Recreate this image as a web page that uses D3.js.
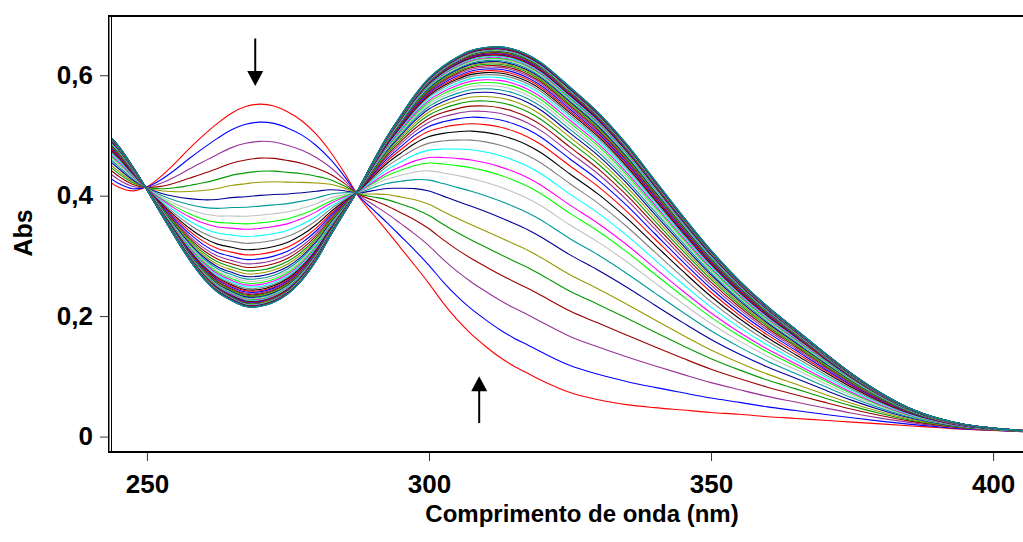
<!DOCTYPE html>
<html>
<head>
<meta charset="utf-8">
<script src="https://cdn.jsdelivr.net/npm/d3@7"></script>
<style>
  body { margin: 0; background: #fff; }
  svg { display: block; }
</style>
</head>
<body>
<div id="chart"></div>
<script>
var width = 1023, height = 542;

// wavelengths (nm) where the two limiting spectra were read
var wavelengths = [243, 245, 247.5, 250, 252.5, 255, 257.5, 260, 262.5, 265, 267.5, 270,
  272.5, 275, 277.5, 280, 282.5, 285, 287.5, 290, 292.5, 295, 297.5, 300,
  302.5, 305, 307.5, 310, 312.5, 315, 317.5, 320, 325, 330, 335, 340,
  345, 350, 355, 360, 365, 370, 375, 380, 385, 390, 395, 400, 405.5];

// first spectrum (red)
var absStart = [0.426, 0.414, 0.408, 0.415, 0.432, 0.454, 0.478, 0.500, 0.520, 0.537, 0.548, 0.552,
  0.549, 0.539, 0.524, 0.502, 0.473, 0.438, 0.399, 0.370, 0.342, 0.313, 0.284, 0.254,
  0.222, 0.194, 0.170, 0.150, 0.132, 0.117, 0.105, 0.093, 0.073, 0.061, 0.053, 0.048,
  0.044, 0.040, 0.037, 0.033, 0.030, 0.027, 0.024, 0.021, 0.018, 0.015, 0.012, 0.010, 0.008];

// last spectrum
var absEnd = [0.503, 0.482, 0.448, 0.410, 0.370, 0.331, 0.294, 0.263, 0.240, 0.226, 0.216, 0.216,
  0.223, 0.237, 0.260, 0.292, 0.333, 0.372, 0.411, 0.455, 0.497, 0.533, 0.567, 0.595,
  0.615, 0.630, 0.641, 0.646, 0.647, 0.643, 0.634, 0.620, 0.580, 0.538, 0.486, 0.426,
  0.366, 0.309, 0.259, 0.216, 0.178, 0.140, 0.104, 0.073, 0.048, 0.031, 0.020, 0.014, 0.010];

// extent of conversion of each recorded spectrum (read at the 270 nm band)
var fractions = [0, 0.089, 0.184, 0.267, 0.332, 0.386, 0.451, 0.504, 0.549, 0.587, 0.614, 0.650,
  0.684, 0.716, 0.742, 0.765, 0.786, 0.804, 0.821, 0.836, 0.850, 0.862, 0.873, 0.883,
  0.892, 0.901, 0.909, 0.916, 0.922, 0.928, 0.934, 0.939, 0.944, 0.948, 0.952, 0.956,
  0.960, 0.963, 0.966, 0.969, 0.972, 0.974, 0.976, 0.978, 0.980, 0.982, 0.984, 0.985,
  0.987, 0.988, 0.989, 0.990, 0.991, 0.992, 0.993, 0.994, 0.995, 0.996, 0.997, 0.998,
  0.999, 1.0, 1.0, 1.0];

var colors = ["#ff0000", "#0000ff", "#993399", "#990000", "#009900", "#999900", "#000099",
  "#009999", "#c0c0c0", "#00ff00", "#ff00ff", "#00ffff", "#808080", "#000000"];

var xTicks = [250, 300, 350, 400];
var yTicks = [0, 0.2, 0.4, 0.6];
var yTickLabels = ["0", "0,2", "0,4", "0,6"];

var plotLeft = 108, plotRight = 1023, plotTop = 15, plotBottom = 451;

var x = d3.scaleLinear().domain([243.1, 405.3]).range([plotLeft, plotRight]);
var y = d3.scaleLinear().domain([-0.024, 0.7]).range([plotBottom, plotTop]);

var svg = d3.select("#chart").append("svg")
  .attr("width", width)
  .attr("height", height)
  .style("font-family", "Arial, 'Liberation Sans', sans-serif");

svg.append("rect").attr("width", width).attr("height", height).attr("fill", "#fff");

svg.append("clipPath").attr("id", "plot")
  .append("rect")
  .attr("x", plotLeft + 4).attr("y", plotTop + 1)
  .attr("width", plotRight - plotLeft - 4).attr("height", plotBottom - plotTop - 2);

var spectra = fractions.map(function(f) {
  return wavelengths.map(function(w, i) {
    return { w: w, a: absStart[i] * (1 - f) + absEnd[i] * f };
  });
});

var line = d3.line()
  .x(function(d) { return x(d.w); })
  .y(function(d) { return y(d.a); })
  .curve(d3.curveCatmullRom);

svg.append("g")
  .attr("clip-path", "url(#plot)")
  .selectAll("path")
  .data(spectra)
  .enter().append("path")
    .attr("d", line)
    .attr("fill", "none")
    .attr("stroke", function(d, i) { return colors[i % colors.length]; })
    .attr("stroke-width", 1.1);

// axes
var yAxis = svg.append("g")
  .attr("transform", "translate(" + plotLeft + ",0)")
  .call(d3.axisLeft(y).tickValues(yTicks).tickSize(8).tickPadding(7)
    .tickFormat(function(d, i) { return yTickLabels[i]; }));

var xAxis = svg.append("g")
  .attr("transform", "translate(0," + plotBottom + ")")
  .call(d3.axisBottom(x).tickValues(xTicks).tickSize(10).tickPadding(14));

[xAxis, yAxis].forEach(function(g) {
  g.select(".domain").remove();
  g.selectAll(".tick line").attr("stroke", "#333");
  g.selectAll(".tick text")
    .attr("fill", "#000")
    .style("font-size", "26px")
    .style("font-weight", "bold");
});

// frame
var frame = svg.append("g").attr("stroke", "#000").attr("fill", "none");
frame.append("line").attr("x1", plotLeft).attr("x2", plotRight).attr("y1", plotTop + 1).attr("y2", plotTop + 1).attr("stroke-width", 2);
frame.append("line").attr("x1", plotLeft).attr("x2", plotRight).attr("y1", plotBottom + 1).attr("y2", plotBottom + 1).attr("stroke-width", 2);
frame.append("line").attr("x1", plotLeft + 0.75).attr("x2", plotLeft + 0.75).attr("y1", plotTop).attr("y2", plotBottom + 2).attr("stroke-width", 1.5);
frame.append("line").attr("x1", plotLeft + 3.5).attr("x2", plotLeft + 3.5).attr("y1", plotTop).attr("y2", plotBottom + 2).attr("stroke-width", 1);

// axis titles
svg.append("text")
  .attr("x", 582).attr("y", 522)
  .attr("text-anchor", "middle")
  .style("font-size", "24px").style("font-weight", "bold")
  .text("Comprimento de onda (nm)");

svg.append("text")
  .attr("transform", "translate(32,233) rotate(-90)")
  .attr("text-anchor", "middle")
  .style("font-size", "25px").style("font-weight", "bold")
  .text("Abs");

// arrows
function arrow(w, a0, a1) {
  var x0 = x(w), y0 = y(a0), y1 = y(a1);
  var dir = y1 > y0 ? 1 : -1;
  svg.append("line")
    .attr("x1", x0).attr("x2", x0)
    .attr("y1", y0).attr("y2", y1 - dir * 12)
    .attr("stroke", "#000").attr("stroke-width", 2);
  svg.append("path")
    .attr("d", "M" + (x0 - 8) + "," + (y1 - dir * 15) + "L" + (x0 + 8) + "," + (y1 - dir * 15) + "L" + x0 + "," + y1 + "Z")
    .attr("fill", "#000");
}
arrow(269.2, 0.661, 0.582);
arrow(308.9, 0.0224, 0.100);
</script>
</body>
</html>
